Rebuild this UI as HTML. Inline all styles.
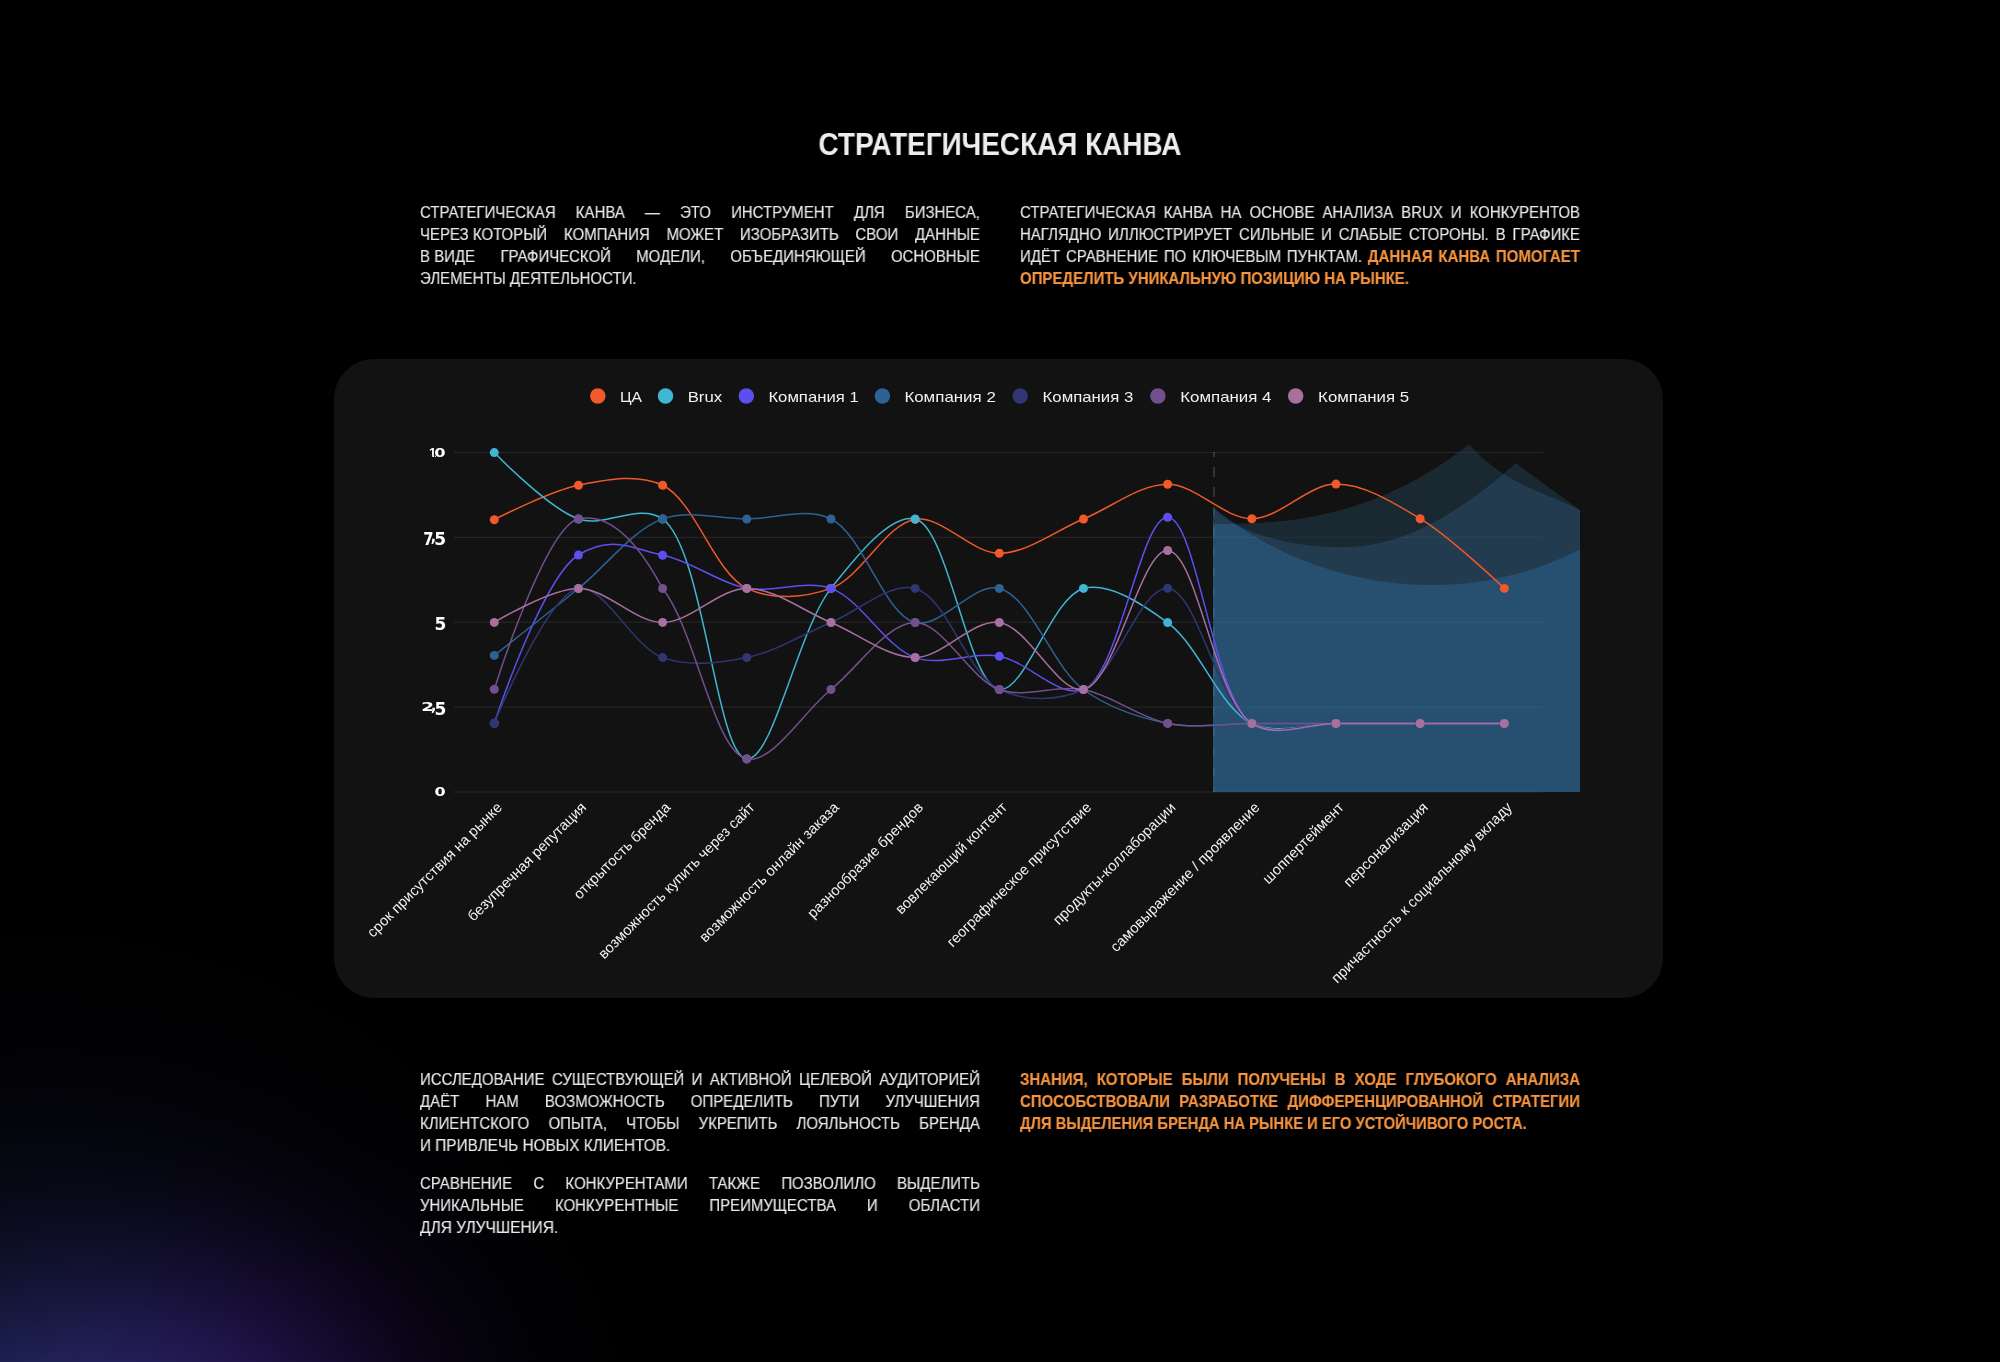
<!DOCTYPE html>
<html lang="ru"><head><meta charset="utf-8"><title>Стратегическая канва</title>
<style>
html,body{margin:0;padding:0;background:#000;}
body{width:2000px;height:1362px;position:relative;overflow:hidden;font-family:"Liberation Sans",sans-serif;color:#e9e9e9;}
.glow{position:absolute;left:0;top:0;width:2000px;height:1362px;background-color:#000;background-blend-mode:screen;
 background-image:
  radial-gradient(ellipse 496px 383px at 237px 1391px, rgba(18,2,36,1.0000) 0.0%, rgba(18,2,36,0.9608) 7.7%, rgba(18,2,36,0.8521) 15.4%, rgba(18,2,36,0.6977) 23.1%, rgba(18,2,36,0.5273) 30.8%, rgba(18,2,36,0.3679) 38.5%, rgba(18,2,36,0.2369) 46.2%, rgba(18,2,36,0.1409) 53.8%, rgba(18,2,36,0.0773) 61.5%, rgba(18,2,36,0.0392) 69.2%, rgba(18,2,36,0.0183) 76.9%, rgba(18,2,36,0.0079) 84.6%, rgba(18,2,36,0.0032) 92.3%, rgba(18,2,36,0.0000) 100.0%),
  radial-gradient(ellipse 686px 769px at 45px 1601px, rgba(50,62,147,1.0000) 0.0%, rgba(50,62,147,0.9608) 7.7%, rgba(50,62,147,0.8521) 15.4%, rgba(50,62,147,0.6977) 23.1%, rgba(50,62,147,0.5273) 30.8%, rgba(50,62,147,0.3679) 38.5%, rgba(50,62,147,0.2369) 46.2%, rgba(50,62,147,0.1409) 53.8%, rgba(50,62,147,0.0773) 61.5%, rgba(50,62,147,0.0392) 69.2%, rgba(50,62,147,0.0183) 76.9%, rgba(50,62,147,0.0079) 84.6%, rgba(50,62,147,0.0032) 92.3%, rgba(50,62,147,0.0000) 100.0%);}
h1{position:absolute;left:0;top:124.4px;width:2000px;margin:0;text-align:center;font-size:30.5px;line-height:40px;font-weight:bold;color:#ededed;transform:scaleX(.916);will-change:transform}
.card{position:absolute;left:334px;top:359px;width:1329px;height:639px;border-radius:40px;background:#121212}
.chart{position:absolute;left:0;top:0;will-change:transform}
.p{position:absolute;width:608.70px;transform:scaleX(0.92);transform-origin:0 0;font-size:16.3px;line-height:22px;white-space:nowrap;will-change:transform;-webkit-text-stroke:0.15px currentColor}
.p.o{color:#F7943E;font-weight:bold}
.p b{color:#F7943E}
.ln{height:22px;display:flex;justify-content:flex-start}
.ln.j{justify-content:space-between}
.yt{font:bold 12.5px "DejaVu Sans",sans-serif;fill:#fff}
.xl{font:14.7px "Liberation Sans",sans-serif;fill:#f2f2f2}
.lg{font:14.6px "Liberation Sans",sans-serif;fill:#f2f2f2}
</style></head>
<body>
<div class="glow"></div>
<h1>СТРАТЕГИЧЕСКАЯ КАНВА</h1>
<div class="p " style="left:420px;top:201.3px"><div class="ln j"><span>СТРАТЕГИЧЕСКАЯ</span> <span>КАНВА</span> <span>—</span> <span>ЭТО</span> <span>ИНСТРУМЕНТ</span> <span>ДЛЯ</span> <span>БИЗНЕСА,</span></div><div class="ln j"><span>ЧЕРЕЗ КОТОРЫЙ</span> <span>КОМПАНИЯ</span> <span>МОЖЕТ</span> <span>ИЗОБРАЗИТЬ</span> <span>СВОИ</span> <span>ДАННЫЕ</span></div><div class="ln j"><span>В ВИДЕ</span> <span>ГРАФИЧЕСКОЙ</span> <span>МОДЕЛИ,</span> <span>ОБЪЕДИНЯЮЩЕЙ</span> <span>ОСНОВНЫЕ</span></div><div class="ln"><span>ЭЛЕМЕНТЫ ДЕЯТЕЛЬНОСТИ.</span></div></div>
<div class="p " style="left:1020px;top:201.3px"><div class="ln j"><span>СТРАТЕГИЧЕСКАЯ</span> <span>КАНВА</span> <span>НА</span> <span>ОСНОВЕ</span> <span>АНАЛИЗА</span> <span>BRUX</span> <span>И</span> <span>КОНКУРЕНТОВ</span></div><div class="ln j"><span>НАГЛЯДНО</span> <span>ИЛЛЮСТРИРУЕТ</span> <span>СИЛЬНЫЕ</span> <span>И</span> <span>СЛАБЫЕ</span> <span>СТОРОНЫ.</span> <span>В</span> <span>ГРАФИКЕ</span></div><div class="ln j"><span>ИДЁТ</span> <span>СРАВНЕНИЕ</span> <span>ПО</span> <span>КЛЮЧЕВЫМ</span> <span>ПУНКТАМ.</span> <span><b>ДАННАЯ</b></span> <span><b>КАНВА</b></span> <span><b>ПОМОГАЕТ</b></span></div><div class="ln"><span><b>ОПРЕДЕЛИТЬ УНИКАЛЬНУЮ ПОЗИЦИЮ НА РЫНКЕ.</b></span></div></div>
<div class="card"></div>
<svg class="chart" width="2000" height="1362" viewBox="0 0 2000 1362">
<defs>
<clipPath id="c1"><path d="M1213.0,524.0L1215.0,524.0L1217.0,524.0L1219.0,524.0L1221.0,524.0L1223.0,524.0L1225.0,524.0L1227.0,523.9L1229.0,523.9L1231.0,523.9L1233.0,523.9L1235.0,523.8L1237.0,523.8L1239.0,523.7L1241.0,523.7L1243.0,523.6L1245.0,523.6L1247.0,523.5L1249.0,523.4L1251.0,523.3L1253.0,523.2L1255.0,523.1L1257.0,523.0L1259.0,522.9L1261.0,522.8L1263.0,522.7L1265.0,522.5L1267.0,522.4L1269.0,522.2L1271.0,522.1L1273.0,521.9L1275.0,521.7L1277.0,521.5L1279.0,521.3L1281.0,521.1L1283.0,520.9L1285.0,520.7L1287.0,520.4L1289.0,520.2L1291.0,519.9L1293.0,519.7L1295.0,519.4L1297.0,519.1L1299.0,518.8L1301.0,518.5L1303.0,518.2L1305.0,517.8L1307.0,517.5L1309.0,517.1L1311.0,516.8L1313.0,516.4L1315.0,516.0L1317.0,515.6L1319.0,515.2L1321.0,514.8L1323.0,514.4L1325.0,513.9L1327.0,513.5L1329.0,513.0L1331.0,512.5L1333.0,512.0L1335.0,511.5L1337.0,511.0L1339.0,510.5L1341.0,509.9L1343.0,509.4L1345.0,508.8L1347.0,508.2L1349.0,507.6L1351.0,507.0L1353.0,506.4L1355.0,505.8L1357.0,505.1L1359.0,504.5L1361.0,503.8L1363.0,503.1L1365.0,502.4L1367.0,501.7L1369.0,500.9L1371.0,500.2L1373.0,499.4L1375.0,498.6L1377.0,497.9L1379.0,497.1L1381.0,496.2L1383.0,495.4L1385.0,494.6L1387.0,493.7L1389.0,492.8L1391.0,491.9L1393.0,491.0L1395.0,490.1L1397.0,489.1L1399.0,488.2L1401.0,487.2L1403.0,486.2L1405.0,485.2L1407.0,484.2L1409.0,483.2L1411.0,482.1L1413.0,481.1L1415.0,480.0L1417.0,478.9L1419.0,477.8L1421.0,476.6L1423.0,475.5L1425.0,474.3L1427.0,473.2L1429.0,472.0L1431.0,470.7L1433.0,469.5L1435.0,468.3L1437.0,467.0L1439.0,465.7L1441.0,464.4L1443.0,463.1L1445.0,461.8L1447.0,460.4L1449.0,459.1L1451.0,457.7L1453.0,456.3L1455.0,454.9L1457.0,453.4L1459.0,452.0L1461.0,450.5L1463.0,449.0L1465.0,447.5L1467.0,446.0L1469.0,444.4L1469.4,444.1L1471.4,446.6L1473.4,448.7L1475.4,450.8L1477.4,452.8L1479.4,454.8L1481.4,456.7L1483.4,458.5L1485.4,460.3L1487.4,462.0L1489.4,463.6L1491.4,465.2L1493.4,466.8L1495.4,468.3L1497.4,469.7L1499.4,471.1L1501.4,472.5L1503.4,473.8L1505.4,475.1L1507.4,476.3L1509.4,477.5L1511.4,478.7L1513.4,479.8L1515.4,480.9L1517.4,481.9L1519.4,483.0L1521.4,484.0L1523.4,485.0L1525.4,485.9L1527.4,486.9L1529.4,487.8L1531.4,488.7L1533.4,489.6L1535.4,490.5L1537.4,491.3L1539.4,492.2L1541.4,493.0L1543.4,493.9L1545.4,494.7L1547.4,495.5L1549.4,496.4L1551.4,497.2L1553.4,498.0L1555.4,498.9L1557.4,499.7L1559.4,500.5L1561.4,501.4L1563.4,502.3L1565.4,503.2L1567.4,504.1L1569.4,505.0L1571.4,505.9L1573.4,506.9L1575.4,507.9L1577.4,508.9L1579.4,509.9L1580.0,510.1L1580.0,792.0L1213.0,792.0Z"/></clipPath>
<clipPath id="c2"><path d="M1213.0,507.2L1215.0,509.1L1217.0,510.9L1219.0,512.6L1221.0,514.3L1223.0,515.9L1225.0,517.3L1227.0,518.8L1229.0,520.1L1231.0,521.4L1233.0,522.6L1235.0,523.8L1237.0,524.9L1239.0,526.0L1241.0,527.0L1243.0,528.0L1245.0,528.9L1247.0,529.8L1249.0,530.7L1251.0,531.5L1253.0,532.3L1255.0,533.0L1257.0,533.8L1259.0,534.5L1261.0,535.1L1263.0,535.8L1265.0,536.4L1267.0,537.0L1269.0,537.5L1271.0,538.1L1273.0,538.6L1275.0,539.1L1277.0,539.6L1279.0,540.1L1281.0,540.6L1283.0,541.0L1285.0,541.4L1287.0,541.8L1289.0,542.2L1291.0,542.6L1293.0,542.9L1295.0,543.3L1297.0,543.6L1299.0,543.9L1301.0,544.2L1303.0,544.5L1305.0,544.8L1307.0,545.1L1309.0,545.3L1311.0,545.5L1313.0,545.8L1315.0,546.0L1317.0,546.2L1319.0,546.3L1321.0,546.5L1323.0,546.6L1325.0,546.7L1327.0,546.9L1329.0,546.9L1331.0,547.0L1333.0,547.1L1335.0,547.1L1337.0,547.1L1339.0,547.2L1341.0,547.1L1343.0,547.1L1345.0,547.1L1347.0,547.0L1349.0,546.9L1351.0,546.8L1353.0,546.7L1355.0,546.5L1357.0,546.3L1359.0,546.1L1361.0,545.9L1363.0,545.7L1365.0,545.4L1367.0,545.2L1369.0,544.9L1371.0,544.5L1373.0,544.2L1375.0,543.8L1377.0,543.4L1379.0,543.0L1381.0,542.6L1383.0,542.1L1385.0,541.6L1387.0,541.1L1389.0,540.6L1391.0,540.0L1393.0,539.4L1395.0,538.8L1397.0,538.2L1399.0,537.5L1401.0,536.8L1403.0,536.1L1405.0,535.4L1407.0,534.6L1409.0,533.9L1411.0,533.1L1413.0,532.2L1415.0,531.4L1417.0,530.5L1419.0,529.6L1421.0,528.7L1423.0,527.8L1425.0,526.8L1427.0,525.8L1429.0,524.8L1431.0,523.8L1433.0,522.7L1435.0,521.7L1437.0,520.6L1439.0,519.5L1441.0,518.3L1443.0,517.2L1445.0,516.0L1447.0,514.8L1449.0,513.6L1451.0,512.4L1453.0,511.1L1455.0,509.9L1457.0,508.6L1459.0,507.3L1461.0,506.0L1463.0,504.6L1465.0,503.3L1467.0,501.9L1469.0,500.5L1471.0,499.1L1473.0,497.7L1475.0,496.2L1477.0,494.8L1479.0,493.3L1481.0,491.8L1483.0,490.3L1485.0,488.8L1487.0,487.2L1489.0,485.7L1491.0,484.1L1493.0,482.5L1495.0,480.9L1497.0,479.2L1499.0,477.6L1501.0,475.9L1503.0,474.2L1505.0,472.5L1507.0,470.7L1509.0,469.0L1511.0,467.2L1513.0,465.4L1515.0,463.6L1515.6,463.1L1580.0,510.1L1580.0,792.0L1213.0,792.0Z"/></clipPath>
<clipPath id="ca"><rect x="440" y="452" width="1160" height="340.0"/></clipPath>
</defs>
<line x1="454" x2="1543" y1="792.00" y2="792.00" stroke="#fff" stroke-opacity="0.1" stroke-width="1"/>
<line x1="454" x2="1543" y1="707.10" y2="707.10" stroke="#fff" stroke-opacity="0.1" stroke-width="1"/>
<line x1="454" x2="1543" y1="622.20" y2="622.20" stroke="#fff" stroke-opacity="0.1" stroke-width="1"/>
<line x1="454" x2="1543" y1="537.30" y2="537.30" stroke="#fff" stroke-opacity="0.1" stroke-width="1"/>
<line x1="454" x2="1543" y1="452.40" y2="452.40" stroke="#fff" stroke-opacity="0.1" stroke-width="1"/>
<line x1="1214" x2="1214" y1="447" y2="792.0" stroke="#fff" stroke-opacity="0.14" stroke-width="2" stroke-dasharray="10 10" clip-path="url(#ca)"/>
<g class="wave" opacity="0.6"><path d="M1213.0,524.0L1215.0,524.0L1217.0,524.0L1219.0,524.0L1221.0,524.0L1223.0,524.0L1225.0,524.0L1227.0,523.9L1229.0,523.9L1231.0,523.9L1233.0,523.9L1235.0,523.8L1237.0,523.8L1239.0,523.7L1241.0,523.7L1243.0,523.6L1245.0,523.6L1247.0,523.5L1249.0,523.4L1251.0,523.3L1253.0,523.2L1255.0,523.1L1257.0,523.0L1259.0,522.9L1261.0,522.8L1263.0,522.7L1265.0,522.5L1267.0,522.4L1269.0,522.2L1271.0,522.1L1273.0,521.9L1275.0,521.7L1277.0,521.5L1279.0,521.3L1281.0,521.1L1283.0,520.9L1285.0,520.7L1287.0,520.4L1289.0,520.2L1291.0,519.9L1293.0,519.7L1295.0,519.4L1297.0,519.1L1299.0,518.8L1301.0,518.5L1303.0,518.2L1305.0,517.8L1307.0,517.5L1309.0,517.1L1311.0,516.8L1313.0,516.4L1315.0,516.0L1317.0,515.6L1319.0,515.2L1321.0,514.8L1323.0,514.4L1325.0,513.9L1327.0,513.5L1329.0,513.0L1331.0,512.5L1333.0,512.0L1335.0,511.5L1337.0,511.0L1339.0,510.5L1341.0,509.9L1343.0,509.4L1345.0,508.8L1347.0,508.2L1349.0,507.6L1351.0,507.0L1353.0,506.4L1355.0,505.8L1357.0,505.1L1359.0,504.5L1361.0,503.8L1363.0,503.1L1365.0,502.4L1367.0,501.7L1369.0,500.9L1371.0,500.2L1373.0,499.4L1375.0,498.6L1377.0,497.9L1379.0,497.1L1381.0,496.2L1383.0,495.4L1385.0,494.6L1387.0,493.7L1389.0,492.8L1391.0,491.9L1393.0,491.0L1395.0,490.1L1397.0,489.1L1399.0,488.2L1401.0,487.2L1403.0,486.2L1405.0,485.2L1407.0,484.2L1409.0,483.2L1411.0,482.1L1413.0,481.1L1415.0,480.0L1417.0,478.9L1419.0,477.8L1421.0,476.6L1423.0,475.5L1425.0,474.3L1427.0,473.2L1429.0,472.0L1431.0,470.7L1433.0,469.5L1435.0,468.3L1437.0,467.0L1439.0,465.7L1441.0,464.4L1443.0,463.1L1445.0,461.8L1447.0,460.4L1449.0,459.1L1451.0,457.7L1453.0,456.3L1455.0,454.9L1457.0,453.4L1459.0,452.0L1461.0,450.5L1463.0,449.0L1465.0,447.5L1467.0,446.0L1469.0,444.4L1469.4,444.1L1471.4,446.6L1473.4,448.7L1475.4,450.8L1477.4,452.8L1479.4,454.8L1481.4,456.7L1483.4,458.5L1485.4,460.3L1487.4,462.0L1489.4,463.6L1491.4,465.2L1493.4,466.8L1495.4,468.3L1497.4,469.7L1499.4,471.1L1501.4,472.5L1503.4,473.8L1505.4,475.1L1507.4,476.3L1509.4,477.5L1511.4,478.7L1513.4,479.8L1515.4,480.9L1517.4,481.9L1519.4,483.0L1521.4,484.0L1523.4,485.0L1525.4,485.9L1527.4,486.9L1529.4,487.8L1531.4,488.7L1533.4,489.6L1535.4,490.5L1537.4,491.3L1539.4,492.2L1541.4,493.0L1543.4,493.9L1545.4,494.7L1547.4,495.5L1549.4,496.4L1551.4,497.2L1553.4,498.0L1555.4,498.9L1557.4,499.7L1559.4,500.5L1561.4,501.4L1563.4,502.3L1565.4,503.2L1567.4,504.1L1569.4,505.0L1571.4,505.9L1573.4,506.9L1575.4,507.9L1577.4,508.9L1579.4,509.9L1580.0,510.1L1580.0,792.0L1213.0,792.0Z" fill="rgb(31,55,71)"/><path d="M1213.0,507.2L1215.0,509.1L1217.0,510.9L1219.0,512.6L1221.0,514.3L1223.0,515.9L1225.0,517.3L1227.0,518.8L1229.0,520.1L1231.0,521.4L1233.0,522.6L1235.0,523.8L1237.0,524.9L1239.0,526.0L1241.0,527.0L1243.0,528.0L1245.0,528.9L1247.0,529.8L1249.0,530.7L1251.0,531.5L1253.0,532.3L1255.0,533.0L1257.0,533.8L1259.0,534.5L1261.0,535.1L1263.0,535.8L1265.0,536.4L1267.0,537.0L1269.0,537.5L1271.0,538.1L1273.0,538.6L1275.0,539.1L1277.0,539.6L1279.0,540.1L1281.0,540.6L1283.0,541.0L1285.0,541.4L1287.0,541.8L1289.0,542.2L1291.0,542.6L1293.0,542.9L1295.0,543.3L1297.0,543.6L1299.0,543.9L1301.0,544.2L1303.0,544.5L1305.0,544.8L1307.0,545.1L1309.0,545.3L1311.0,545.5L1313.0,545.8L1315.0,546.0L1317.0,546.2L1319.0,546.3L1321.0,546.5L1323.0,546.6L1325.0,546.7L1327.0,546.9L1329.0,546.9L1331.0,547.0L1333.0,547.1L1335.0,547.1L1337.0,547.1L1339.0,547.2L1341.0,547.1L1343.0,547.1L1345.0,547.1L1347.0,547.0L1349.0,546.9L1351.0,546.8L1353.0,546.7L1355.0,546.5L1357.0,546.3L1359.0,546.1L1361.0,545.9L1363.0,545.7L1365.0,545.4L1367.0,545.2L1369.0,544.9L1371.0,544.5L1373.0,544.2L1375.0,543.8L1377.0,543.4L1379.0,543.0L1381.0,542.6L1383.0,542.1L1385.0,541.6L1387.0,541.1L1389.0,540.6L1391.0,540.0L1393.0,539.4L1395.0,538.8L1397.0,538.2L1399.0,537.5L1401.0,536.8L1403.0,536.1L1405.0,535.4L1407.0,534.6L1409.0,533.9L1411.0,533.1L1413.0,532.2L1415.0,531.4L1417.0,530.5L1419.0,529.6L1421.0,528.7L1423.0,527.8L1425.0,526.8L1427.0,525.8L1429.0,524.8L1431.0,523.8L1433.0,522.7L1435.0,521.7L1437.0,520.6L1439.0,519.5L1441.0,518.3L1443.0,517.2L1445.0,516.0L1447.0,514.8L1449.0,513.6L1451.0,512.4L1453.0,511.1L1455.0,509.9L1457.0,508.6L1459.0,507.3L1461.0,506.0L1463.0,504.6L1465.0,503.3L1467.0,501.9L1469.0,500.5L1471.0,499.1L1473.0,497.7L1475.0,496.2L1477.0,494.8L1479.0,493.3L1481.0,491.8L1483.0,490.3L1485.0,488.8L1487.0,487.2L1489.0,485.7L1491.0,484.1L1493.0,482.5L1495.0,480.9L1497.0,479.2L1499.0,477.6L1501.0,475.9L1503.0,474.2L1505.0,472.5L1507.0,470.7L1509.0,469.0L1511.0,467.2L1513.0,465.4L1515.0,463.6L1515.6,463.1L1580.0,510.1L1580.0,792.0L1213.0,792.0Z" fill="rgb(31,55,71)"/><path d="M1213.0,507.3L1215.0,508.9L1217.0,510.5L1219.0,512.1L1221.0,513.6L1223.0,515.1L1225.0,516.6L1227.0,518.1L1229.0,519.6L1231.0,521.0L1233.0,522.4L1235.0,523.8L1237.0,525.2L1239.0,526.5L1241.0,527.9L1243.0,529.2L1245.0,530.5L1247.0,531.7L1249.0,533.0L1251.0,534.2L1253.0,535.4L1255.0,536.6L1257.0,537.8L1259.0,539.0L1261.0,540.1L1263.0,541.2L1265.0,542.3L1267.0,543.4L1269.0,544.5L1271.0,545.5L1273.0,546.6L1275.0,547.6L1277.0,548.6L1279.0,549.6L1281.0,550.6L1283.0,551.5L1285.0,552.5L1287.0,553.4L1289.0,554.3L1291.0,555.2L1293.0,556.1L1295.0,556.9L1297.0,557.8L1299.0,558.6L1301.0,559.4L1303.0,560.2L1305.0,561.0L1307.0,561.8L1309.0,562.5L1311.0,563.3L1313.0,564.0L1315.0,564.7L1317.0,565.4L1319.0,566.1L1321.0,566.8L1323.0,567.5L1325.0,568.1L1327.0,568.8L1329.0,569.4L1331.0,570.0L1333.0,570.6L1335.0,571.2L1337.0,571.7L1339.0,572.3L1341.0,572.8L1343.0,573.4L1345.0,573.9L1347.0,574.4L1349.0,574.9L1351.0,575.4L1353.0,575.9L1355.0,576.3L1357.0,576.8L1359.0,577.2L1361.0,577.6L1363.0,578.0L1365.0,578.4L1367.0,578.8L1369.0,579.2L1371.0,579.6L1373.0,579.9L1375.0,580.3L1377.0,580.6L1379.0,580.9L1381.0,581.2L1383.0,581.5L1385.0,581.8L1387.0,582.1L1389.0,582.3L1391.0,582.6L1393.0,582.8L1395.0,583.0L1397.0,583.2L1399.0,583.4L1401.0,583.6L1403.0,583.8L1405.0,583.9L1407.0,584.1L1409.0,584.2L1411.0,584.4L1413.0,584.5L1415.0,584.6L1417.0,584.7L1419.0,584.8L1421.0,584.8L1423.0,584.9L1425.0,584.9L1427.0,585.0L1429.0,585.0L1431.0,585.0L1433.0,585.0L1435.0,585.0L1437.0,585.0L1439.0,584.9L1441.0,584.9L1443.0,584.8L1445.0,584.8L1447.0,584.7L1449.0,584.6L1451.0,584.5L1453.0,584.3L1455.0,584.2L1457.0,584.1L1459.0,583.9L1461.0,583.7L1463.0,583.6L1465.0,583.4L1467.0,583.2L1469.0,582.9L1471.0,582.7L1473.0,582.5L1475.0,582.2L1477.0,581.9L1479.0,581.6L1481.0,581.3L1483.0,581.0L1485.0,580.7L1487.0,580.4L1489.0,580.0L1491.0,579.7L1493.0,579.3L1495.0,578.9L1497.0,578.5L1499.0,578.1L1501.0,577.6L1503.0,577.2L1505.0,576.7L1507.0,576.3L1509.0,575.8L1511.0,575.3L1513.0,574.8L1515.0,574.3L1517.0,573.7L1519.0,573.2L1521.0,572.6L1523.0,572.0L1525.0,571.4L1527.0,570.8L1529.0,570.2L1531.0,569.6L1533.0,568.9L1535.0,568.2L1537.0,567.6L1539.0,566.9L1541.0,566.1L1543.0,565.4L1545.0,564.7L1547.0,563.9L1549.0,563.2L1551.0,562.4L1553.0,561.6L1555.0,560.8L1557.0,559.9L1559.0,559.1L1561.0,558.2L1563.0,557.3L1565.0,556.4L1567.0,555.5L1569.0,554.6L1571.0,553.7L1573.0,552.7L1575.0,551.8L1577.0,550.8L1579.0,549.8L1580.0,549.3L1580.0,792.0L1213.0,792.0Z" fill="rgb(31,55,71)"/>
<g clip-path="url(#c1)"><path d="M1213.0,507.2L1215.0,509.1L1217.0,510.9L1219.0,512.6L1221.0,514.3L1223.0,515.9L1225.0,517.3L1227.0,518.8L1229.0,520.1L1231.0,521.4L1233.0,522.6L1235.0,523.8L1237.0,524.9L1239.0,526.0L1241.0,527.0L1243.0,528.0L1245.0,528.9L1247.0,529.8L1249.0,530.7L1251.0,531.5L1253.0,532.3L1255.0,533.0L1257.0,533.8L1259.0,534.5L1261.0,535.1L1263.0,535.8L1265.0,536.4L1267.0,537.0L1269.0,537.5L1271.0,538.1L1273.0,538.6L1275.0,539.1L1277.0,539.6L1279.0,540.1L1281.0,540.6L1283.0,541.0L1285.0,541.4L1287.0,541.8L1289.0,542.2L1291.0,542.6L1293.0,542.9L1295.0,543.3L1297.0,543.6L1299.0,543.9L1301.0,544.2L1303.0,544.5L1305.0,544.8L1307.0,545.1L1309.0,545.3L1311.0,545.5L1313.0,545.8L1315.0,546.0L1317.0,546.2L1319.0,546.3L1321.0,546.5L1323.0,546.6L1325.0,546.7L1327.0,546.9L1329.0,546.9L1331.0,547.0L1333.0,547.1L1335.0,547.1L1337.0,547.1L1339.0,547.2L1341.0,547.1L1343.0,547.1L1345.0,547.1L1347.0,547.0L1349.0,546.9L1351.0,546.8L1353.0,546.7L1355.0,546.5L1357.0,546.3L1359.0,546.1L1361.0,545.9L1363.0,545.7L1365.0,545.4L1367.0,545.2L1369.0,544.9L1371.0,544.5L1373.0,544.2L1375.0,543.8L1377.0,543.4L1379.0,543.0L1381.0,542.6L1383.0,542.1L1385.0,541.6L1387.0,541.1L1389.0,540.6L1391.0,540.0L1393.0,539.4L1395.0,538.8L1397.0,538.2L1399.0,537.5L1401.0,536.8L1403.0,536.1L1405.0,535.4L1407.0,534.6L1409.0,533.9L1411.0,533.1L1413.0,532.2L1415.0,531.4L1417.0,530.5L1419.0,529.6L1421.0,528.7L1423.0,527.8L1425.0,526.8L1427.0,525.8L1429.0,524.8L1431.0,523.8L1433.0,522.7L1435.0,521.7L1437.0,520.6L1439.0,519.5L1441.0,518.3L1443.0,517.2L1445.0,516.0L1447.0,514.8L1449.0,513.6L1451.0,512.4L1453.0,511.1L1455.0,509.9L1457.0,508.6L1459.0,507.3L1461.0,506.0L1463.0,504.6L1465.0,503.3L1467.0,501.9L1469.0,500.5L1471.0,499.1L1473.0,497.7L1475.0,496.2L1477.0,494.8L1479.0,493.3L1481.0,491.8L1483.0,490.3L1485.0,488.8L1487.0,487.2L1489.0,485.7L1491.0,484.1L1493.0,482.5L1495.0,480.9L1497.0,479.2L1499.0,477.6L1501.0,475.9L1503.0,474.2L1505.0,472.5L1507.0,470.7L1509.0,469.0L1511.0,467.2L1513.0,465.4L1515.0,463.6L1515.6,463.1L1580.0,510.1L1580.0,792.0L1213.0,792.0Z" fill="rgb(45,88,121)"/><path d="M1213.0,507.3L1215.0,508.9L1217.0,510.5L1219.0,512.1L1221.0,513.6L1223.0,515.1L1225.0,516.6L1227.0,518.1L1229.0,519.6L1231.0,521.0L1233.0,522.4L1235.0,523.8L1237.0,525.2L1239.0,526.5L1241.0,527.9L1243.0,529.2L1245.0,530.5L1247.0,531.7L1249.0,533.0L1251.0,534.2L1253.0,535.4L1255.0,536.6L1257.0,537.8L1259.0,539.0L1261.0,540.1L1263.0,541.2L1265.0,542.3L1267.0,543.4L1269.0,544.5L1271.0,545.5L1273.0,546.6L1275.0,547.6L1277.0,548.6L1279.0,549.6L1281.0,550.6L1283.0,551.5L1285.0,552.5L1287.0,553.4L1289.0,554.3L1291.0,555.2L1293.0,556.1L1295.0,556.9L1297.0,557.8L1299.0,558.6L1301.0,559.4L1303.0,560.2L1305.0,561.0L1307.0,561.8L1309.0,562.5L1311.0,563.3L1313.0,564.0L1315.0,564.7L1317.0,565.4L1319.0,566.1L1321.0,566.8L1323.0,567.5L1325.0,568.1L1327.0,568.8L1329.0,569.4L1331.0,570.0L1333.0,570.6L1335.0,571.2L1337.0,571.7L1339.0,572.3L1341.0,572.8L1343.0,573.4L1345.0,573.9L1347.0,574.4L1349.0,574.9L1351.0,575.4L1353.0,575.9L1355.0,576.3L1357.0,576.8L1359.0,577.2L1361.0,577.6L1363.0,578.0L1365.0,578.4L1367.0,578.8L1369.0,579.2L1371.0,579.6L1373.0,579.9L1375.0,580.3L1377.0,580.6L1379.0,580.9L1381.0,581.2L1383.0,581.5L1385.0,581.8L1387.0,582.1L1389.0,582.3L1391.0,582.6L1393.0,582.8L1395.0,583.0L1397.0,583.2L1399.0,583.4L1401.0,583.6L1403.0,583.8L1405.0,583.9L1407.0,584.1L1409.0,584.2L1411.0,584.4L1413.0,584.5L1415.0,584.6L1417.0,584.7L1419.0,584.8L1421.0,584.8L1423.0,584.9L1425.0,584.9L1427.0,585.0L1429.0,585.0L1431.0,585.0L1433.0,585.0L1435.0,585.0L1437.0,585.0L1439.0,584.9L1441.0,584.9L1443.0,584.8L1445.0,584.8L1447.0,584.7L1449.0,584.6L1451.0,584.5L1453.0,584.3L1455.0,584.2L1457.0,584.1L1459.0,583.9L1461.0,583.7L1463.0,583.6L1465.0,583.4L1467.0,583.2L1469.0,582.9L1471.0,582.7L1473.0,582.5L1475.0,582.2L1477.0,581.9L1479.0,581.6L1481.0,581.3L1483.0,581.0L1485.0,580.7L1487.0,580.4L1489.0,580.0L1491.0,579.7L1493.0,579.3L1495.0,578.9L1497.0,578.5L1499.0,578.1L1501.0,577.6L1503.0,577.2L1505.0,576.7L1507.0,576.3L1509.0,575.8L1511.0,575.3L1513.0,574.8L1515.0,574.3L1517.0,573.7L1519.0,573.2L1521.0,572.6L1523.0,572.0L1525.0,571.4L1527.0,570.8L1529.0,570.2L1531.0,569.6L1533.0,568.9L1535.0,568.2L1537.0,567.6L1539.0,566.9L1541.0,566.1L1543.0,565.4L1545.0,564.7L1547.0,563.9L1549.0,563.2L1551.0,562.4L1553.0,561.6L1555.0,560.8L1557.0,559.9L1559.0,559.1L1561.0,558.2L1563.0,557.3L1565.0,556.4L1567.0,555.5L1569.0,554.6L1571.0,553.7L1573.0,552.7L1575.0,551.8L1577.0,550.8L1579.0,549.8L1580.0,549.3L1580.0,792.0L1213.0,792.0Z" fill="rgb(45,88,121)"/></g>
<g clip-path="url(#c2)"><path d="M1213.0,507.3L1215.0,508.9L1217.0,510.5L1219.0,512.1L1221.0,513.6L1223.0,515.1L1225.0,516.6L1227.0,518.1L1229.0,519.6L1231.0,521.0L1233.0,522.4L1235.0,523.8L1237.0,525.2L1239.0,526.5L1241.0,527.9L1243.0,529.2L1245.0,530.5L1247.0,531.7L1249.0,533.0L1251.0,534.2L1253.0,535.4L1255.0,536.6L1257.0,537.8L1259.0,539.0L1261.0,540.1L1263.0,541.2L1265.0,542.3L1267.0,543.4L1269.0,544.5L1271.0,545.5L1273.0,546.6L1275.0,547.6L1277.0,548.6L1279.0,549.6L1281.0,550.6L1283.0,551.5L1285.0,552.5L1287.0,553.4L1289.0,554.3L1291.0,555.2L1293.0,556.1L1295.0,556.9L1297.0,557.8L1299.0,558.6L1301.0,559.4L1303.0,560.2L1305.0,561.0L1307.0,561.8L1309.0,562.5L1311.0,563.3L1313.0,564.0L1315.0,564.7L1317.0,565.4L1319.0,566.1L1321.0,566.8L1323.0,567.5L1325.0,568.1L1327.0,568.8L1329.0,569.4L1331.0,570.0L1333.0,570.6L1335.0,571.2L1337.0,571.7L1339.0,572.3L1341.0,572.8L1343.0,573.4L1345.0,573.9L1347.0,574.4L1349.0,574.9L1351.0,575.4L1353.0,575.9L1355.0,576.3L1357.0,576.8L1359.0,577.2L1361.0,577.6L1363.0,578.0L1365.0,578.4L1367.0,578.8L1369.0,579.2L1371.0,579.6L1373.0,579.9L1375.0,580.3L1377.0,580.6L1379.0,580.9L1381.0,581.2L1383.0,581.5L1385.0,581.8L1387.0,582.1L1389.0,582.3L1391.0,582.6L1393.0,582.8L1395.0,583.0L1397.0,583.2L1399.0,583.4L1401.0,583.6L1403.0,583.8L1405.0,583.9L1407.0,584.1L1409.0,584.2L1411.0,584.4L1413.0,584.5L1415.0,584.6L1417.0,584.7L1419.0,584.8L1421.0,584.8L1423.0,584.9L1425.0,584.9L1427.0,585.0L1429.0,585.0L1431.0,585.0L1433.0,585.0L1435.0,585.0L1437.0,585.0L1439.0,584.9L1441.0,584.9L1443.0,584.8L1445.0,584.8L1447.0,584.7L1449.0,584.6L1451.0,584.5L1453.0,584.3L1455.0,584.2L1457.0,584.1L1459.0,583.9L1461.0,583.7L1463.0,583.6L1465.0,583.4L1467.0,583.2L1469.0,582.9L1471.0,582.7L1473.0,582.5L1475.0,582.2L1477.0,581.9L1479.0,581.6L1481.0,581.3L1483.0,581.0L1485.0,580.7L1487.0,580.4L1489.0,580.0L1491.0,579.7L1493.0,579.3L1495.0,578.9L1497.0,578.5L1499.0,578.1L1501.0,577.6L1503.0,577.2L1505.0,576.7L1507.0,576.3L1509.0,575.8L1511.0,575.3L1513.0,574.8L1515.0,574.3L1517.0,573.7L1519.0,573.2L1521.0,572.6L1523.0,572.0L1525.0,571.4L1527.0,570.8L1529.0,570.2L1531.0,569.6L1533.0,568.9L1535.0,568.2L1537.0,567.6L1539.0,566.9L1541.0,566.1L1543.0,565.4L1545.0,564.7L1547.0,563.9L1549.0,563.2L1551.0,562.4L1553.0,561.6L1555.0,560.8L1557.0,559.9L1559.0,559.1L1561.0,558.2L1563.0,557.3L1565.0,556.4L1567.0,555.5L1569.0,554.6L1571.0,553.7L1573.0,552.7L1575.0,551.8L1577.0,550.8L1579.0,549.8L1580.0,549.3L1580.0,792.0L1213.0,792.0Z" fill="rgb(45,88,121)"/></g>
<g clip-path="url(#c1)"><g clip-path="url(#c2)"><path d="M1213.0,507.3L1215.0,508.9L1217.0,510.5L1219.0,512.1L1221.0,513.6L1223.0,515.1L1225.0,516.6L1227.0,518.1L1229.0,519.6L1231.0,521.0L1233.0,522.4L1235.0,523.8L1237.0,525.2L1239.0,526.5L1241.0,527.9L1243.0,529.2L1245.0,530.5L1247.0,531.7L1249.0,533.0L1251.0,534.2L1253.0,535.4L1255.0,536.6L1257.0,537.8L1259.0,539.0L1261.0,540.1L1263.0,541.2L1265.0,542.3L1267.0,543.4L1269.0,544.5L1271.0,545.5L1273.0,546.6L1275.0,547.6L1277.0,548.6L1279.0,549.6L1281.0,550.6L1283.0,551.5L1285.0,552.5L1287.0,553.4L1289.0,554.3L1291.0,555.2L1293.0,556.1L1295.0,556.9L1297.0,557.8L1299.0,558.6L1301.0,559.4L1303.0,560.2L1305.0,561.0L1307.0,561.8L1309.0,562.5L1311.0,563.3L1313.0,564.0L1315.0,564.7L1317.0,565.4L1319.0,566.1L1321.0,566.8L1323.0,567.5L1325.0,568.1L1327.0,568.8L1329.0,569.4L1331.0,570.0L1333.0,570.6L1335.0,571.2L1337.0,571.7L1339.0,572.3L1341.0,572.8L1343.0,573.4L1345.0,573.9L1347.0,574.4L1349.0,574.9L1351.0,575.4L1353.0,575.9L1355.0,576.3L1357.0,576.8L1359.0,577.2L1361.0,577.6L1363.0,578.0L1365.0,578.4L1367.0,578.8L1369.0,579.2L1371.0,579.6L1373.0,579.9L1375.0,580.3L1377.0,580.6L1379.0,580.9L1381.0,581.2L1383.0,581.5L1385.0,581.8L1387.0,582.1L1389.0,582.3L1391.0,582.6L1393.0,582.8L1395.0,583.0L1397.0,583.2L1399.0,583.4L1401.0,583.6L1403.0,583.8L1405.0,583.9L1407.0,584.1L1409.0,584.2L1411.0,584.4L1413.0,584.5L1415.0,584.6L1417.0,584.7L1419.0,584.8L1421.0,584.8L1423.0,584.9L1425.0,584.9L1427.0,585.0L1429.0,585.0L1431.0,585.0L1433.0,585.0L1435.0,585.0L1437.0,585.0L1439.0,584.9L1441.0,584.9L1443.0,584.8L1445.0,584.8L1447.0,584.7L1449.0,584.6L1451.0,584.5L1453.0,584.3L1455.0,584.2L1457.0,584.1L1459.0,583.9L1461.0,583.7L1463.0,583.6L1465.0,583.4L1467.0,583.2L1469.0,582.9L1471.0,582.7L1473.0,582.5L1475.0,582.2L1477.0,581.9L1479.0,581.6L1481.0,581.3L1483.0,581.0L1485.0,580.7L1487.0,580.4L1489.0,580.0L1491.0,579.7L1493.0,579.3L1495.0,578.9L1497.0,578.5L1499.0,578.1L1501.0,577.6L1503.0,577.2L1505.0,576.7L1507.0,576.3L1509.0,575.8L1511.0,575.3L1513.0,574.8L1515.0,574.3L1517.0,573.7L1519.0,573.2L1521.0,572.6L1523.0,572.0L1525.0,571.4L1527.0,570.8L1529.0,570.2L1531.0,569.6L1533.0,568.9L1535.0,568.2L1537.0,567.6L1539.0,566.9L1541.0,566.1L1543.0,565.4L1545.0,564.7L1547.0,563.9L1549.0,563.2L1551.0,562.4L1553.0,561.6L1555.0,560.8L1557.0,559.9L1559.0,559.1L1561.0,558.2L1563.0,557.3L1565.0,556.4L1567.0,555.5L1569.0,554.6L1571.0,553.7L1573.0,552.7L1575.0,551.8L1577.0,550.8L1579.0,549.8L1580.0,549.3L1580.0,792.0L1213.0,792.0Z" fill="rgb(53,121,175)"/></g></g></g>
<clipPath id="c1g"><rect x="425" y="440" width="22" height="15.35"/><rect x="432.2" y="455.30" width="1.8" height="3"/><rect x="434.9" y="455.30" width="12" height="3"/></clipPath>
<text class="yt" clip-path="url(#c1g)"><tspan x="428.9" y="456.70" font-size="13.1" style="font-family:'Liberation Sans',sans-serif">1</tspan><tspan x="434.28" y="456.70" font-size="12.3" textLength="11.37" lengthAdjust="spacingAndGlyphs">0</tspan></text>
<text class="yt"><tspan x="423.27" y="545.00" font-size="16.9" textLength="10.25" lengthAdjust="spacingAndGlyphs">7</tspan><tspan x="430.80" y="541.60" font-size="16" textLength="5.29" lengthAdjust="spacingAndGlyphs">,</tspan><tspan x="434.33" y="545.00" font-size="16.9" textLength="11.90" lengthAdjust="spacingAndGlyphs">5</tspan></text>
<text class="yt"><tspan x="434.53" y="629.90" font-size="16.9" textLength="11.90" lengthAdjust="spacingAndGlyphs">5</tspan></text>
<text class="yt"><tspan x="421.24" y="711.40" font-size="12.6" textLength="12.74" lengthAdjust="spacingAndGlyphs">2</tspan><tspan x="431.00" y="711.40" font-size="16" textLength="5.29" lengthAdjust="spacingAndGlyphs">,</tspan><tspan x="434.53" y="714.80" font-size="16.9" textLength="11.90" lengthAdjust="spacingAndGlyphs">5</tspan></text>
<text class="yt"><tspan x="434.60" y="796.40" font-size="12.3" textLength="11.14" lengthAdjust="spacingAndGlyphs">0</tspan></text>
<path d="M494.30,519.70C494.30,519.70 549.85,490.84 578.47,485.20C606.00,479.78 637.13,473.09 662.64,485.20C694.73,500.44 714.72,573.16 746.81,588.40C772.32,600.51 804.51,597.86 830.98,588.40C861.08,577.64 885.70,523.91 915.15,519.40C942.04,515.28 971.27,553.36 999.32,553.30C1027.39,553.24 1055.45,530.51 1083.49,519.00C1111.56,507.48 1139.59,484.24 1167.66,484.20C1195.71,484.16 1223.78,518.71 1251.83,518.70C1279.89,518.69 1307.94,484.10 1336.00,484.10C1364.06,484.10 1393.28,502.55 1420.17,518.70C1449.63,536.39 1504.34,588.40 1504.34,588.40" fill="none" stroke="#F05929" stroke-width="1.5"/>
<path d="M494.30,452.60C494.30,452.60 548.50,508.60 578.47,519.00C605.02,528.21 638.93,502.19 662.64,519.00C703.84,548.21 716.40,757.06 746.81,758.90C773.11,760.49 797.81,630.27 830.98,588.40C856.10,556.68 890.03,513.61 915.15,519.00C948.32,526.12 968.17,685.81 999.32,689.50C1025.23,692.57 1052.32,596.20 1083.49,588.40C1109.40,581.92 1141.75,603.68 1167.66,622.60C1198.82,645.36 1219.89,708.55 1251.83,723.50C1277.40,735.47 1307.94,723.50 1336.00,723.50C1364.06,723.50 1392.11,723.50 1420.17,723.50C1448.23,723.50 1504.34,723.50 1504.34,723.50" fill="none" stroke="#41B6D3" stroke-width="1.5"/>
<path d="M494.30,723.30C494.30,723.30 542.09,577.42 578.47,555.00C613.02,533.70 635.07,549.93 662.64,555.20C691.22,560.67 718.23,582.97 746.81,588.40C774.38,593.64 804.51,578.92 830.98,588.40C861.09,599.19 885.04,647.09 915.15,657.60C941.62,666.84 971.75,651.18 999.32,656.20C1027.90,661.40 1059.01,698.99 1083.49,689.50C1119.12,675.69 1140.58,516.39 1167.66,517.30C1196.85,518.28 1212.88,697.33 1251.83,723.50C1275.77,739.59 1307.94,723.50 1336.00,723.50C1364.06,723.50 1392.11,723.50 1420.17,723.50C1448.23,723.50 1504.34,723.50 1504.34,723.50" fill="none" stroke="#5D4FEF" stroke-width="1.5"/>
<path d="M494.30,655.40C494.30,655.40 550.52,611.16 578.47,588.50C606.64,565.66 632.50,529.73 662.64,518.90C689.09,509.40 718.75,518.98 746.81,519.00C774.87,519.02 805.48,506.87 830.98,519.00C863.09,534.27 883.83,614.45 915.15,622.50C940.99,629.14 973.42,581.90 999.32,588.40C1030.50,596.22 1052.31,666.78 1083.49,689.50C1109.39,708.37 1139.06,717.84 1167.66,723.40C1195.21,728.76 1223.77,723.48 1251.83,723.50C1279.89,723.52 1307.94,723.50 1336.00,723.50C1364.06,723.50 1392.11,723.50 1420.17,723.50C1448.23,723.50 1504.34,723.50 1504.34,723.50" fill="none" stroke="#2F6195" stroke-width="1.5"/>
<path d="M494.30,723.30C494.30,723.30 547.22,593.63 578.47,588.50C604.34,584.26 632.53,646.84 662.64,657.60C689.11,667.06 719.29,663.01 746.81,657.50C775.45,651.77 802.90,634.03 830.98,622.50C859.01,610.99 889.25,581.90 915.15,588.40C946.33,596.22 967.36,674.52 999.32,689.50C1024.88,701.48 1057.93,701.49 1083.49,689.50C1115.46,674.50 1140.82,586.36 1167.66,588.20C1197.19,590.22 1217.67,704.52 1251.83,723.50C1276.66,737.30 1307.94,723.50 1336.00,723.50C1364.06,723.50 1392.11,723.50 1420.17,723.50C1448.23,723.50 1504.34,723.50 1504.34,723.50" fill="none" stroke="#2F3672" stroke-width="1.5"/>
<path d="M494.30,689.30C494.30,689.30 545.32,525.98 578.47,518.90C624.96,508.97 660.13,585.32 662.64,588.50C695.79,630.40 713.65,751.79 746.81,758.90C771.94,764.29 802.82,712.31 830.98,689.50C858.94,666.85 887.09,622.50 915.15,622.50C943.21,622.50 969.32,679.02 999.32,689.50C1025.86,698.77 1055.94,684.16 1083.49,689.50C1112.09,695.04 1139.06,717.84 1167.66,723.40C1195.21,728.76 1223.77,723.48 1251.83,723.50C1279.89,723.52 1307.94,723.50 1336.00,723.50C1364.06,723.50 1392.11,723.50 1420.17,723.50C1448.23,723.50 1504.34,723.50 1504.34,723.50" fill="none" stroke="#71508D" stroke-width="1.5"/>
<path d="M494.30,622.40C494.30,622.40 550.41,588.50 578.47,588.50C606.53,588.50 634.59,622.41 662.64,622.40C690.70,622.39 718.76,588.39 746.81,588.40C774.87,588.41 802.95,610.99 830.98,622.50C859.06,634.03 887.09,657.50 915.15,657.50C943.21,657.50 972.33,618.72 999.32,622.50C1028.64,626.61 1057.78,694.10 1083.49,689.50C1115.09,683.85 1140.69,549.26 1167.66,550.50C1197.00,551.85 1215.13,700.54 1251.83,723.50C1276.11,738.69 1307.94,723.50 1336.00,723.50C1364.06,723.50 1392.11,723.50 1420.17,723.50C1448.23,723.50 1504.34,723.50 1504.34,723.50" fill="none" stroke="#A8709F" stroke-width="1.5"/>
<g fill="#F05929"><circle cx="494.30" cy="519.70" r="4.5"/><circle cx="578.47" cy="485.20" r="4.5"/><circle cx="662.64" cy="485.20" r="4.5"/><circle cx="746.81" cy="588.40" r="4.5"/><circle cx="830.98" cy="588.40" r="4.5"/><circle cx="915.15" cy="519.40" r="4.5"/><circle cx="999.32" cy="553.30" r="4.5"/><circle cx="1083.49" cy="519.00" r="4.5"/><circle cx="1167.66" cy="484.20" r="4.5"/><circle cx="1251.83" cy="518.70" r="4.5"/><circle cx="1336.00" cy="484.10" r="4.5"/><circle cx="1420.17" cy="518.70" r="4.5"/><circle cx="1504.34" cy="588.40" r="4.5"/></g>
<g fill="#41B6D3"><circle cx="494.30" cy="452.60" r="4.5"/><circle cx="578.47" cy="519.00" r="4.5"/><circle cx="662.64" cy="519.00" r="4.5"/><circle cx="746.81" cy="758.90" r="4.5"/><circle cx="830.98" cy="588.40" r="4.5"/><circle cx="915.15" cy="519.00" r="4.5"/><circle cx="999.32" cy="689.50" r="4.5"/><circle cx="1083.49" cy="588.40" r="4.5"/><circle cx="1167.66" cy="622.60" r="4.5"/><circle cx="1251.83" cy="723.50" r="4.5"/><circle cx="1336.00" cy="723.50" r="4.5"/><circle cx="1420.17" cy="723.50" r="4.5"/><circle cx="1504.34" cy="723.50" r="4.5"/></g>
<g fill="#5D4FEF"><circle cx="494.30" cy="723.30" r="4.5"/><circle cx="578.47" cy="555.00" r="4.5"/><circle cx="662.64" cy="555.20" r="4.5"/><circle cx="746.81" cy="588.40" r="4.5"/><circle cx="830.98" cy="588.40" r="4.5"/><circle cx="915.15" cy="657.60" r="4.5"/><circle cx="999.32" cy="656.20" r="4.5"/><circle cx="1083.49" cy="689.50" r="4.5"/><circle cx="1167.66" cy="517.30" r="4.5"/><circle cx="1251.83" cy="723.50" r="4.5"/><circle cx="1336.00" cy="723.50" r="4.5"/><circle cx="1420.17" cy="723.50" r="4.5"/><circle cx="1504.34" cy="723.50" r="4.5"/></g>
<g fill="#2F6195"><circle cx="494.30" cy="655.40" r="4.5"/><circle cx="578.47" cy="588.50" r="4.5"/><circle cx="662.64" cy="518.90" r="4.5"/><circle cx="746.81" cy="519.00" r="4.5"/><circle cx="830.98" cy="519.00" r="4.5"/><circle cx="915.15" cy="622.50" r="4.5"/><circle cx="999.32" cy="588.40" r="4.5"/><circle cx="1083.49" cy="689.50" r="4.5"/><circle cx="1167.66" cy="723.40" r="4.5"/><circle cx="1251.83" cy="723.50" r="4.5"/><circle cx="1336.00" cy="723.50" r="4.5"/><circle cx="1420.17" cy="723.50" r="4.5"/><circle cx="1504.34" cy="723.50" r="4.5"/></g>
<g fill="#2F3672"><circle cx="494.30" cy="723.30" r="4.5"/><circle cx="578.47" cy="588.50" r="4.5"/><circle cx="662.64" cy="657.60" r="4.5"/><circle cx="746.81" cy="657.50" r="4.5"/><circle cx="830.98" cy="622.50" r="4.5"/><circle cx="915.15" cy="588.40" r="4.5"/><circle cx="999.32" cy="689.50" r="4.5"/><circle cx="1083.49" cy="689.50" r="4.5"/><circle cx="1167.66" cy="588.20" r="4.5"/><circle cx="1251.83" cy="723.50" r="4.5"/><circle cx="1336.00" cy="723.50" r="4.5"/><circle cx="1420.17" cy="723.50" r="4.5"/><circle cx="1504.34" cy="723.50" r="4.5"/></g>
<g fill="#71508D"><circle cx="494.30" cy="689.30" r="4.5"/><circle cx="578.47" cy="518.90" r="4.5"/><circle cx="662.64" cy="588.50" r="4.5"/><circle cx="746.81" cy="758.90" r="4.5"/><circle cx="830.98" cy="689.50" r="4.5"/><circle cx="915.15" cy="622.50" r="4.5"/><circle cx="999.32" cy="689.50" r="4.5"/><circle cx="1083.49" cy="689.50" r="4.5"/><circle cx="1167.66" cy="723.40" r="4.5"/><circle cx="1251.83" cy="723.50" r="4.5"/><circle cx="1336.00" cy="723.50" r="4.5"/><circle cx="1420.17" cy="723.50" r="4.5"/><circle cx="1504.34" cy="723.50" r="4.5"/></g>
<g fill="#A8709F"><circle cx="494.30" cy="622.40" r="4.5"/><circle cx="578.47" cy="588.50" r="4.5"/><circle cx="662.64" cy="622.40" r="4.5"/><circle cx="746.81" cy="588.40" r="4.5"/><circle cx="830.98" cy="622.50" r="4.5"/><circle cx="915.15" cy="657.50" r="4.5"/><circle cx="999.32" cy="622.50" r="4.5"/><circle cx="1083.49" cy="689.50" r="4.5"/><circle cx="1167.66" cy="550.50" r="4.5"/><circle cx="1251.83" cy="723.50" r="4.5"/><circle cx="1336.00" cy="723.50" r="4.5"/><circle cx="1420.17" cy="723.50" r="4.5"/><circle cx="1504.34" cy="723.50" r="4.5"/></g>
<text class="xl" text-anchor="end" transform="translate(499.7,805.0) rotate(-45)" dy="0.32em">срок присутствия на рынке</text>
<text class="xl" text-anchor="end" transform="translate(583.9,805.0) rotate(-45)" dy="0.32em">безупречная репутация</text>
<text class="xl" text-anchor="end" transform="translate(668.0,805.0) rotate(-45)" dy="0.32em">открытость бренда</text>
<text class="xl" text-anchor="end" transform="translate(752.2,805.0) rotate(-45)" dy="0.32em">возможность купить через сайт</text>
<text class="xl" text-anchor="end" transform="translate(836.4,805.0) rotate(-45)" dy="0.32em">возможность онлайн заказа</text>
<text class="xl" text-anchor="end" transform="translate(920.6,805.0) rotate(-45)" dy="0.32em">разнообразие брендов</text>
<text class="xl" text-anchor="end" transform="translate(1004.7,805.0) rotate(-45)" dy="0.32em">вовлекающий контент</text>
<text class="xl" text-anchor="end" transform="translate(1088.9,805.0) rotate(-45)" dy="0.32em">географическое присутствие</text>
<text class="xl" text-anchor="end" transform="translate(1173.1,805.0) rotate(-45)" dy="0.32em">продукты-коллаборации</text>
<text class="xl" text-anchor="end" transform="translate(1257.2,805.0) rotate(-45)" dy="0.32em">самовыражение / проявление</text>
<text class="xl" text-anchor="end" transform="translate(1341.4,805.0) rotate(-45)" dy="0.32em">шоппертеймент</text>
<text class="xl" text-anchor="end" transform="translate(1425.6,805.0) rotate(-45)" dy="0.32em">персонализация</text>
<text class="xl" text-anchor="end" transform="translate(1509.7,805.0) rotate(-45)" dy="0.32em">причастность к социальному вкладу</text>
<circle cx="597.8" cy="396" r="7.75" fill="#F05929"/>
<text class="lg" x="619.9" y="402.2" textLength="22.1" lengthAdjust="spacingAndGlyphs">ЦА</text>
<circle cx="665.5" cy="396" r="7.75" fill="#41B6D3"/>
<text class="lg" x="687.7" y="402.2" textLength="34.5" lengthAdjust="spacingAndGlyphs">Brux</text>
<circle cx="746.3" cy="396" r="7.75" fill="#5D4FEF"/>
<text class="lg" x="768.4" y="402.2" textLength="90.3" lengthAdjust="spacingAndGlyphs">Компания 1</text>
<circle cx="882.4" cy="396" r="7.75" fill="#2F6195"/>
<text class="lg" x="904.4" y="402.2" textLength="91.4" lengthAdjust="spacingAndGlyphs">Компания 2</text>
<circle cx="1020.2" cy="396" r="7.75" fill="#2F3672"/>
<text class="lg" x="1042.6" y="402.2" textLength="90.7" lengthAdjust="spacingAndGlyphs">Компания 3</text>
<circle cx="1157.9" cy="396" r="7.75" fill="#71508D"/>
<text class="lg" x="1180.2" y="402.2" textLength="91.3" lengthAdjust="spacingAndGlyphs">Компания 4</text>
<circle cx="1295.7" cy="396" r="7.75" fill="#A8709F"/>
<text class="lg" x="1318.1" y="402.2" textLength="91.0" lengthAdjust="spacingAndGlyphs">Компания 5</text>
</svg>
<div class="p " style="left:420px;top:1068.3px"><div class="ln j"><span>ИССЛЕДОВАНИЕ</span> <span>СУЩЕСТВУЮЩЕЙ</span> <span>И</span> <span>АКТИВНОЙ</span> <span>ЦЕЛЕВОЙ</span> <span>АУДИТОРИЕЙ</span></div><div class="ln j"><span>ДАЁТ</span> <span>НАМ</span> <span>ВОЗМОЖНОСТЬ</span> <span>ОПРЕДЕЛИТЬ</span> <span>ПУТИ</span> <span>УЛУЧШЕНИЯ</span></div><div class="ln j"><span>КЛИЕНТСКОГО</span> <span>ОПЫТА,</span> <span>ЧТОБЫ</span> <span>УКРЕПИТЬ</span> <span>ЛОЯЛЬНОСТЬ</span> <span>БРЕНДА</span></div><div class="ln" style="transform:scaleX(1.024);transform-origin:0 0"><span>И ПРИВЛЕЧЬ НОВЫХ КЛИЕНТОВ.</span></div></div>
<div class="p " style="left:420px;top:1172.3px"><div class="ln j"><span>СРАВНЕНИЕ</span> <span>С</span> <span>КОНКУРЕНТАМИ</span> <span>ТАКЖЕ</span> <span>ПОЗВОЛИЛО</span> <span>ВЫДЕЛИТЬ</span></div><div class="ln j"><span>УНИКАЛЬНЫЕ</span> <span>КОНКУРЕНТНЫЕ</span> <span>ПРЕИМУЩЕСТВА</span> <span>И</span> <span>ОБЛАСТИ</span></div><div class="ln" style="transform:scaleX(1.035);transform-origin:0 0"><span>ДЛЯ УЛУЧШЕНИЯ.</span></div></div>
<div class="p o" style="left:1020px;top:1068.3px"><div class="ln j"><span>ЗНАНИЯ,</span> <span>КОТОРЫЕ</span> <span>БЫЛИ</span> <span>ПОЛУЧЕНЫ</span> <span>В</span> <span>ХОДЕ</span> <span>ГЛУБОКОГО</span> <span>АНАЛИЗА</span></div><div class="ln j"><span>СПОСОБСТВОВАЛИ</span> <span>РАЗРАБОТКЕ</span> <span>ДИФФЕРЕНЦИРОВАННОЙ</span> <span>СТРАТЕГИИ</span></div><div class="ln" style="transform:scaleX(0.9866);transform-origin:0 0"><span>ДЛЯ ВЫДЕЛЕНИЯ БРЕНДА НА РЫНКЕ И ЕГО УСТОЙЧИВОГО РОСТА.</span></div></div>
</body></html>
